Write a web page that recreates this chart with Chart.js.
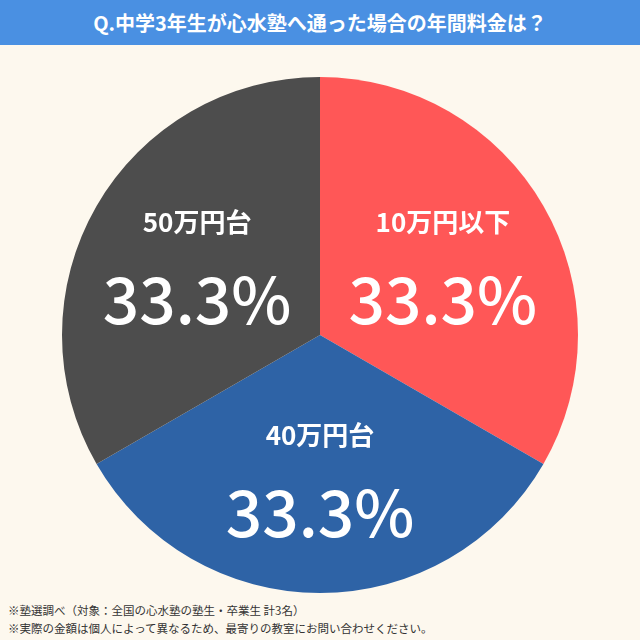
<!DOCTYPE html>
<html><head><meta charset="utf-8">
<script src="https://cdn.jsdelivr.net/npm/chart.js@4"></script>
<style>
body{margin:0;width:640px;height:640px;background:#fdf8ee;font-family:"Noto Sans CJK JP",sans-serif;overflow:hidden;position:relative}
#title{height:45px;background:#4a90e2;color:#fff;font-size:20px;font-weight:bold;line-height:45px;text-align:center}
#wrap{position:absolute;left:57px;top:72px;width:526px;height:526px}
#note{position:absolute;left:8px;top:601px;font-size:11.5px;color:#333;line-height:18px}
</style></head><body>
<div id="title">Q.中学3年生が心水塾へ通った場合の年間料金は？</div>
<div id="wrap"><canvas id="c"></canvas></div>
<div id="note">※塾選調べ（対象：全国の心水塾の塾生・卒業生 計3名）<br>※実際の金額は個人によって異なるため、最寄りの教室にお問い合わせください。</div>
<script>
const labels = ['10万円以下', '40万円台', '50万円台'];
const values = [33.3, 33.3, 33.3];
const colors = ['#ff5757', '#2e63a6', '#4d4d4d'];

const labelPlugin = {
    id: 'sliceLabels',
    afterDatasetsDraw(chart) {
        const ctx = chart.ctx;
        chart.getDatasetMeta(0).data.forEach((arc, i) => {
            const ang = (arc.startAngle + arc.endAngle) / 2;
            const r = arc.outerRadius * 0.55;
            const x = arc.x + Math.cos(ang) * r;
            const y = arc.y + Math.sin(ang) * r;
            ctx.save();
            ctx.fillStyle = '#fff';
            ctx.textAlign = 'center';
            ctx.textBaseline = 'middle';
            ctx.font = 'bold 26px "Noto Sans CJK JP"';
            ctx.fillText(labels[i], x, y - 42);
            ctx.font = '500 64px "Noto Sans CJK JP"';
            ctx.fillText(values[i].toFixed(1) + '%', x, y + 36);
            ctx.restore();
        });
    }
};

new Chart(document.getElementById('c'), {
    type: 'pie',
    data: {
        labels: labels,
        datasets: [{ data: values, backgroundColor: colors, borderWidth: 0 }]
    },
    options: {
        responsive: true,
        maintainAspectRatio: false,
        animation: false,
        layout: { padding: 5 },
        plugins: { legend: { display: false }, tooltip: { enabled: false } }
    },
    plugins: [labelPlugin]
});
</script>
</body></html>
